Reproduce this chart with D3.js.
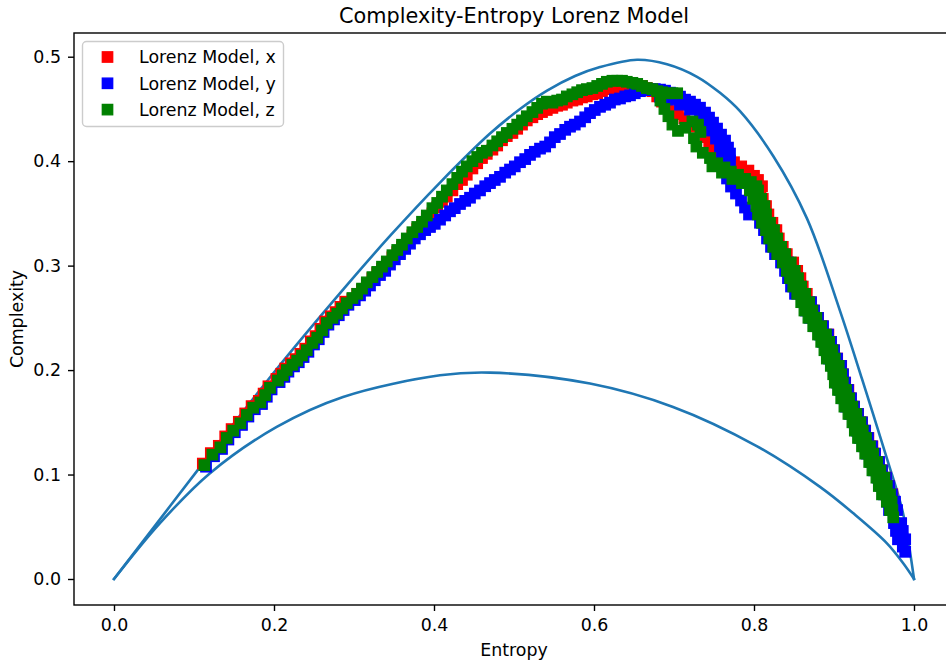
<!DOCTYPE html>
<html>
<head>
<meta charset="utf-8">
<script src="https://cdn.jsdelivr.net/npm/d3@7"></script>
<style>
  body { margin: 0; background: #fff; }
  svg { display: block; }
  text { font-family: "DejaVu Sans", sans-serif; fill: #000; }
</style>
</head>
<body>
<svg id="chart" width="946" height="664"></svg>
<script>
// ---------------- data ----------------
const titleText = "Complexity-Entropy Lorenz Model";
const xLabel = "Entropy";
const yLabel = "Complexity";
const xTicks = [0.0, 0.2, 0.4, 0.6, 0.8, 1.0];
const yTicks = [0.0, 0.1, 0.2, 0.3, 0.4, 0.5];
const seriesNames = ["Lorenz Model, x", "Lorenz Model, y", "Lorenz Model, z"];
const seriesColors = ["#ff0000", "#0000ff", "#008000"];

// upper and lower bounds of the complexity-entropy plane [entropy, complexity]
const maxCurve = [[0,0],[0.0538,0.0535],[0.1075,0.1071],[0.2034,0.2010],[0.2863,0.2770],[0.345,0.3284],[0.4075,0.3795],[0.47,0.4264],[0.5075,0.4499],[0.5413,0.4675],[0.5763,0.4815],[0.6075,0.4901],[0.6538,0.4971],[0.6913,0.4928],[0.7288,0.4808],[0.7575,0.4654],[0.7825,0.4478],[0.8238,0.4052],[0.8663,0.3450],[0.9075,0.2567],[0.935,0.1915],[0.9663,0.1150],[0.9863,0.0630],[1,0]];
const minCurve = [[0,0],[0.0575,0.0535],[0.12,0.1013],[0.2034,0.1456],[0.2863,0.1743],[0.4075,0.1950],[0.47,0.1976],[0.595,0.1871],[0.6988,0.1647],[0.8034,0.1272],[0.8825,0.0882],[0.9238,0.0631],[0.9659,0.0344],[0.9863,0.0153],[1,0]];

// complexity levels of the dense high-entropy part of each trajectory
const tailC = [.372,.364,.357,.349,.341,.334,.326,.318,.311,.303,.295,.288,.280,.273,.265,.257,.250,.242,.234,.227,.219,.211,.204,.196,.188,.181,.173,.165,.158,.150,.142,.135,.127,.120,.112,.104,.097,.089,.081,.074,.066,.059];

// x component
const xRise = [[0.111,0.1105],[0.121,0.1205],[0.131,0.1275],[0.139,0.1365],[0.147,0.1435],[0.156,0.1505],[0.164,0.1585],[0.172,0.1655],[0.181,0.1705],[0.187,0.1775],[0.193,0.1845],[0.203,0.1915],[0.209,0.1965],[0.214,0.2015],[0.221,0.2065],[0.227,0.2105],[0.233,0.2155],[0.239,0.2205],[0.246,0.2275],[0.252,0.2325],[0.258,0.2395],[0.264,0.2465],[0.271,0.2515],[0.277,0.2555],[0.283,0.2605],[0.289,0.2655],
[0.298,0.268],[0.304,0.273],[0.310,0.277],[0.316,0.282],[0.323,0.288],[0.329,0.293],[0.335,0.297],[0.341,0.302],[0.348,0.308],[0.354,0.313],[0.360,0.318],[0.366,0.324],[0.373,0.329],[0.379,0.335],[0.385,0.339],[0.391,0.345],[0.398,0.350],[0.404,0.356],[0.410,0.361],[0.416,0.366],[0.423,0.372],[0.429,0.378],[0.435,0.382],[0.441,0.387],[0.448,0.393],[0.454,0.398],[0.460,0.403],[0.466,0.407],[0.473,0.411],[0.479,0.415],[0.485,0.420],[0.491,0.424],[0.498,0.427],[0.504,0.431],[0.510,0.435],[0.516,0.439],[0.523,0.442],[0.529,0.445],[0.535,0.447],[0.541,0.449],[0.548,0.451],[0.554,0.453],[0.560,0.454],[0.566,0.456],[0.573,0.458],[0.579,0.459],[0.585,0.461],[0.591,0.462],[0.598,0.464],[0.604,0.465],[0.610,0.467],[0.616,0.469],[0.623,0.469],[0.629,0.470],[0.635,0.471],[0.641,0.471],[0.648,0.472],[0.654,0.472],[0.660,0.472],[0.666,0.470],[0.673,0.467],[0.679,0.462],[0.685,0.457],[0.691,0.452],[0.698,0.448],[0.705,0.445],[0.713,0.441],[0.720,0.437],[0.728,0.433],[0.734,0.428],[0.739,0.423],[0.744,0.417],[0.750,0.411],[0.758,0.406],[0.766,0.403],[0.775,0.399],[0.784,0.395],[0.793,0.391],[0.800,0.386],[0.805,0.382],[0.810,0.376]];
const xTailA = [.800,.804,.808,.810,.815,.820,.824,.829,.834,.841,.846,.850,.854,.859,.864,.868,.873,.879,.885,.889,.893,.896,.901,.904,.906,.910,.914,.918,.923,.928,.931,.935,.940,.944,.949,.953,.958,.961,.965,.969];
const xTailB = [.808,.811,.815,.818,.823,.828,.831,.836,.841,.849,.854,.858,.861,.866,.871,.875,.880,.886,.893,.896,.900,.904,.909,.911,.914,.918,.921,.925,.930,.935,.939,.943,.948,.951,.956,.960,.965,.969,.973];

// y component
const yRise = [[0.115,0.1075],[0.125,0.1175],[0.135,0.1245],[0.143,0.1335],[0.151,0.1405],[0.160,0.1475],[0.168,0.1555],[0.176,0.1625],[0.185,0.1675],[0.191,0.1745],[0.197,0.1815],[0.207,0.1885],[0.213,0.1935],[0.218,0.1985],[0.225,0.2035],[0.231,0.2075],[0.237,0.2125],[0.243,0.2175],[0.250,0.2245],[0.256,0.2295],[0.262,0.2365],[0.268,0.2435],[0.275,0.2485],[0.281,0.2525],[0.287,0.2575],[0.293,0.2625],
[0.301,0.267],[0.3075,0.2715],[0.314,0.276],[0.32,0.281],[0.326,0.286],[0.3325,0.291],[0.339,0.295],[0.345,0.301],[0.351,0.306],[0.3575,0.311],[0.364,0.316],[0.37,0.321],[0.376,0.326],[0.3825,0.330],[0.389,0.334],[0.395,0.337],[0.401,0.340],[0.4075,0.344],[0.414,0.348],[0.42,0.352],[0.426,0.355],[0.4325,0.359],[0.439,0.362],[0.445,0.365],[0.451,0.369],[0.4575,0.372],[0.464,0.376],[0.47,0.379],[0.476,0.382],[0.4825,0.385],[0.489,0.389],[0.495,0.392],[0.501,0.395],[0.5075,0.399],[0.514,0.402],[0.52,0.406],[0.526,0.409],[0.5325,0.412],[0.539,0.414],[0.545,0.418],[0.551,0.423],[0.5575,0.426],[0.564,0.430],[0.57,0.433],[0.576,0.435],[0.5825,0.438],[0.589,0.442],[0.595,0.446],[0.601,0.449],[0.6075,0.452],[0.614,0.454],[0.62,0.456],[0.626,0.459],[0.6325,0.460],[0.639,0.462],[0.645,0.463],[0.651,0.465],[0.6575,0.467],[0.664,0.468],[0.67,0.469]];
const yFall = [[0.676,0.469],[0.6825,0.4685],[0.6888,0.4675],[0.695,0.4656],[0.7013,0.4637],[0.7075,0.4618],[0.7138,0.4589],[0.72,0.457],[0.7263,0.4541],[0.7325,0.4512],[0.7388,0.4465],[0.7438,0.4417],[0.7488,0.4369],[0.7538,0.4312],[0.7588,0.4254],[0.7638,0.4197],[0.7675,0.413],[0.77,0.4073],[0.77,0.4006],
[0.6825,0.4618],[0.695,0.4589],[0.7075,0.4541],[0.72,0.4493],[0.7325,0.4436],[0.7413,0.4369],[0.7475,0.4293],[0.7525,0.4216],[0.7575,0.414],[0.76,0.4063],[0.7613,0.3987],
[0.7625,0.391],[0.7663,0.3834],[0.7713,0.3757],[0.7775,0.369],[0.7838,0.3623],[0.7888,0.3556],[0.7938,0.3489]];
const yTailA = [.8075,.8125,.8163,.8213,.8263,.8338,.8388,.8425,.8463,.8513,.8613,.865,.87,.8763,.8825,.8863,.89,.8938,.8988,.9013,.9038,.9075,.9113,.915,.92,.925,.9288,.9325,.9375,.9413,.9463,.95,.955,.9588,.9625,.9663,.9688];
const yTailB = [.8163,.8213,.8251,.8301,.8351,.8426,.8476,.8513,.8551,.8601,.8713,.875,.88,.8863,.8925,.8963,.90,.9038,.9088,.9113,.9138,.9175,.9213,.925,.93,.935,.9388,.9425,.9475,.9513,.9563,.96,.965,.9688,.9725,.9763,.9788];
const yEnd = [[0.975,0.0535],[0.984,0.0535],[0.9775,0.046],[0.986,0.046],[0.98,0.038],[0.989,0.038],[0.986,0.031],[0.989,0.026]];

// z component
const zRise = [[0.113,0.109],[0.123,0.119],[0.133,0.126],[0.141,0.135],[0.149,0.142],[0.158,0.149],[0.166,0.157],[0.174,0.164],[0.183,0.169],[0.189,0.176],[0.195,0.183],[0.205,0.190],[0.211,0.195],[0.216,0.200],[0.223,0.205],[0.229,0.209],[0.235,0.214],[0.241,0.219],[0.248,0.226],[0.254,0.231],[0.260,0.238],[0.266,0.245],[0.273,0.250],[0.279,0.254],[0.285,0.259],[0.291,0.264],
[0.298,0.269],[0.304,0.273],[0.310,0.278],[0.316,0.284],[0.323,0.289],[0.329,0.294],[0.335,0.299],[0.341,0.304],[0.348,0.310],[0.354,0.315],[0.360,0.320],[0.366,0.326],[0.373,0.332],[0.379,0.337],[0.385,0.342],[0.391,0.348],[0.398,0.355],
[0.404,0.360],[0.410,0.366],[0.416,0.372],[0.423,0.378],[0.429,0.384],[0.435,0.390],[0.441,0.395],[0.448,0.400],[0.454,0.404],[0.460,0.408],[0.466,0.410],[0.473,0.415],[0.479,0.419],[0.485,0.423],[0.491,0.427],[0.498,0.431],[0.504,0.435],[0.510,0.439],[0.516,0.443],[0.523,0.447],[0.529,0.451],[0.535,0.455],[0.541,0.457],[0.548,0.456],[0.554,0.458],[0.560,0.459],[0.566,0.462],[0.573,0.464],[0.579,0.466],[0.585,0.468],[0.591,0.469],[0.598,0.470],[0.604,0.472],[0.610,0.474],[0.616,0.476],[0.623,0.477],[0.629,0.477],[0.635,0.477],[0.641,0.476],[0.648,0.475],[0.654,0.474],[0.660,0.472],[0.666,0.470],[0.673,0.469],[0.679,0.467],[0.685,0.466],[0.691,0.465],[0.698,0.465],[0.704,0.465]];
const zFall = [[0.683,0.458],[0.688,0.450],[0.693,0.443],[0.698,0.435],[0.705,0.429],[0.714,0.432],[0.723,0.438],[0.730,0.435],[0.733,0.428],[0.725,0.422],[0.728,0.414],[0.736,0.408],[0.745,0.403],[0.754,0.398],[0.763,0.394],[0.771,0.390],[0.780,0.387],[0.789,0.383],[0.796,0.380],[0.803,0.376],[0.748,0.395],[0.760,0.389],[0.773,0.383],[0.785,0.379],[0.795,0.373]];
const zTailA = [.795,.799,.803,.805,.810,.815,.819,.824,.829,.836,.841,.845,.849,.854,.859,.863,.868,.874,.880,.884,.888,.891,.896,.899,.901,.905,.909,.913,.918,.923,.926,.930,.935,.939,.944,.948,.953,.956,.960,.966,.970,.974];
const zTailB = [.805,.809,.813,.815,.820,.825,.829,.834,.839,.846,.851,.855,.859,.864,.869,.873,.878,.884,.890,.894,.898,.901,.906,.909,.911,.915,.919,.923,.928,.933,.936,.940,.945,.949,.954,.958,.963,.966,.970,.972,.973];

const seriesX = [...xRise, ...d3.zip(xTailA, tailC), ...d3.zip(xTailB, tailC)];
const seriesY = [...yRise, ...yFall, ...d3.zip(yTailA, tailC.slice(4)), ...d3.zip(yTailB, tailC.slice(4)), ...yEnd];
const seriesZ = [...zRise, ...zFall, ...d3.zip(zTailA, tailC), ...d3.zip(zTailB, tailC)];
const allSeries = [seriesX, seriesY, seriesZ];

// ---------------- layout ----------------
const svg = d3.select("#chart");
const plot = { left: 74, top: 33, right: 954, bottom: 605 };
const x = d3.scaleLinear().domain([-0.05, 1.05]).range([plot.left, plot.right]);
const y = d3.scaleLinear().domain([-0.0249, 0.5227]).range([plot.bottom, plot.top]);
const fontBase = 17.4, fontTitle = 20.8;
const markerSize = 10.4, markerEdge = 1.3;

svg.append("rect").attr("width", 946).attr("height", 664).attr("fill", "#fff");

svg.append("clipPath").attr("id", "plotClip")
  .append("rect")
  .attr("x", plot.left).attr("y", plot.top)
  .attr("width", plot.right - plot.left).attr("height", plot.bottom - plot.top);

const body = svg.append("g").attr("clip-path", "url(#plotClip)");

// bounding curves
const line = d3.line().x(d => x(d[0])).y(d => y(d[1])).curve(d3.curveCatmullRom.alpha(0.5));
[maxCurve, minCurve].forEach(c => {
  body.append("path").datum(c).attr("d", line)
    .attr("fill", "none").attr("stroke", "#1f77b4").attr("stroke-width", 2.6)
    .attr("stroke-linecap", "square").attr("stroke-linejoin", "round");
});

// trajectory markers
allSeries.forEach((pts, i) => {
  body.append("g").selectAll("rect").data(pts).join("rect")
    .attr("x", d => x(d[0]) - markerSize / 2)
    .attr("y", d => y(d[1]) - markerSize / 2)
    .attr("width", markerSize).attr("height", markerSize)
    .attr("fill", seriesColors[i])
    .attr("stroke", seriesColors[i]).attr("stroke-width", markerEdge);
});

// axes
const xAxis = svg.append("g").attr("transform", `translate(0,${plot.bottom})`)
  .call(d3.axisBottom(x).tickValues(xTicks).tickFormat(d3.format(".1f"))
    .tickSizeOuter(0).tickSizeInner(6).tickPadding(7.5));
const yAxis = svg.append("g").attr("transform", `translate(${plot.left},0)`)
  .call(d3.axisLeft(y).tickValues(yTicks).tickFormat(d3.format(".1f"))
    .tickSizeOuter(0).tickSizeInner(6).tickPadding(7));
[xAxis, yAxis].forEach(g => {
  g.select(".domain").remove();
  g.selectAll(".tick line").attr("stroke", "#000").attr("stroke-width", 1.4);
  g.selectAll(".tick text").attr("font-size", fontBase)
    .attr("font-family", "DejaVu Sans, sans-serif").attr("fill", "#000");
});

// spines
svg.append("rect")
  .attr("x", plot.left).attr("y", plot.top)
  .attr("width", plot.right - plot.left).attr("height", plot.bottom - plot.top)
  .attr("fill", "none").attr("stroke", "#000").attr("stroke-width", 1.4);

// title and axis labels
const midX = (plot.left + plot.right) / 2;
svg.append("text").attr("x", midX).attr("y", 22.5)
  .attr("text-anchor", "middle").attr("font-size", fontTitle).text(titleText);
svg.append("text").attr("x", midX).attr("y", 656)
  .attr("text-anchor", "middle").attr("font-size", fontBase).text(xLabel);
svg.append("text")
  .attr("transform", `translate(23,${(plot.top + plot.bottom) / 2}) rotate(-90)`)
  .attr("text-anchor", "middle").attr("font-size", fontBase).text(yLabel);

// legend
const lg = svg.append("g").attr("transform", "translate(82.5,41.5)");
lg.append("rect").attr("width", 201).attr("height", 85).attr("rx", 4)
  .attr("fill", "#fff").attr("fill-opacity", 0.8)
  .attr("stroke", "#cccccc").attr("stroke-width", 1.4);
seriesNames.forEach((name, i) => {
  const cy = 15.5 + i * 26.3;
  lg.append("rect")
    .attr("x", 25 - markerSize / 2).attr("y", cy - markerSize / 2)
    .attr("width", markerSize).attr("height", markerSize)
    .attr("fill", seriesColors[i]).attr("stroke", seriesColors[i]).attr("stroke-width", markerEdge);
  lg.append("text").attr("x", 56.5).attr("y", cy + 6.3)
    .attr("font-size", fontBase).text(name);
});
</script>
</body>
</html>
